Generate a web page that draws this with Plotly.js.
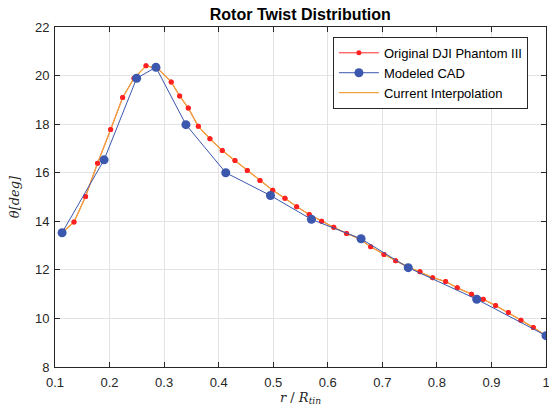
<!DOCTYPE html>
<html>
<head>
<meta charset="utf-8">
<script src="https://cdn.plot.ly/plotly-3.0.1.min.js"></script>
<style>html,body{margin:0;padding:0;background:#fff;}#chart{width:549px;height:410px;}</style>
</head>
<body>
<div id="chart"></div>
<script>
// Original DJI Phantom III (red dots)
const origR = [0.113,0.1348,0.156,0.178,0.202,0.224,0.2448,0.2668,0.288,0.313,0.3285,0.3443,0.3627,0.384,0.4066,0.4299,0.4525,0.4757,0.499,0.5215,0.543,0.566,0.5887,0.611,0.6345,0.6577,0.6786,0.703,0.7244,0.747,0.769,0.7923,0.816,0.8373,0.8635,0.885,0.9076,0.931,0.954,0.9767,1.0];
const origTheta = [13.53,13.97,15.02,16.39,17.78,19.10,19.89,20.40,20.30,19.74,19.16,18.66,17.91,17.40,16.91,16.50,16.09,15.68,15.28,14.95,14.60,14.28,14.00,13.75,13.50,13.28,12.95,12.63,12.38,12.12,11.92,11.68,11.52,11.26,11.00,10.79,10.53,10.24,9.93,9.63,9.29];
// Modeled CAD (blue dots)
const cadR = [0.113,0.190,0.2497,0.285,0.340,0.413,0.495,0.570,0.661,0.7475,0.873,1.0];
const cadTheta = [13.53,16.53,19.89,20.34,17.98,16.0,15.06,14.08,13.28,12.09,10.79,9.29];
// Current Interpolation (orange line, through the original points)
const interpR = origR;
const interpTheta = origTheta;

const traces = [
  {x: origR, y: origTheta, name: 'Original DJI Phantom III', mode: 'lines+markers',
   line: {color: '#ff2a2a', width: 1}, marker: {color: '#ff2020', size: 5}, legendrank: 1},
  {x: interpR, y: interpTheta, name: 'Current Interpolation', mode: 'lines',
   line: {color: '#f0a33c', width: 1.3}, legendrank: 3},
  {x: origR, y: origTheta, name: 'Original markers', mode: 'markers', showlegend: false,
   marker: {color: '#ff2020', size: 5}, hoverinfo: 'skip'},
  {x: cadR, y: cadTheta, name: 'Modeled CAD', mode: 'lines+markers',
   line: {color: '#3b57ae', width: 1}, marker: {color: '#3b57ae', size: 9}, legendrank: 2}
];

const axisFont = {family: 'Liberation Sans, Arial, sans-serif', size: 13, color: '#262626'};
const layout = {
  width: 549, height: 410,
  margin: {l: 55, r: 3, t: 27, b: 43},
  paper_bgcolor: '#ffffff', plot_bgcolor: '#ffffff',
  title: {text: '<b>Rotor Twist Distribution</b>', x: 0.547, xanchor: 'center', y: 0.964, yanchor: 'middle',
          font: {family: 'Liberation Sans, Arial, sans-serif', size: 16, color: '#000'}},
  xaxis: {range: [0.1, 1], dtick: 0.1, tick0: 0.1, showgrid: true, gridcolor: '#e3e3e3',
          showline: true, linecolor: '#262626', linewidth: 1, mirror: 'ticks', ticks: 'inside', ticklen: 5,
          tickcolor: '#262626', tickfont: axisFont, zeroline: false, ticklabelstandoff: 3,
          ticklabeloverflow: 'allow',
          title: {text: '<i>r</i> / <i>R<sub>tin</sub></i>', standoff: 0,
                  font: {family: 'DejaVu Serif, Liberation Serif, serif', size: 13, color: '#262626'}}},
  yaxis: {range: [8, 22], dtick: 2, showgrid: true, gridcolor: '#e3e3e3',
          showline: true, linecolor: '#262626', linewidth: 1, mirror: 'ticks', ticks: 'inside', ticklen: 5,
          tickcolor: '#262626', tickfont: axisFont, zeroline: false, ticklabelstandoff: 2,
          title: {text: '<i>θ[deg]</i>', standoff: 12,
                  font: {family: 'DejaVu Serif, Liberation Serif, serif', size: 13, color: '#262626'}}},
  legend: {x: 0.566, y: 0.971, xanchor: 'left', yanchor: 'top', bgcolor: '#ffffff',
           bordercolor: '#262626', borderwidth: 1, tracegroupgap: 0, itemwidth: 40,
           font: {family: 'Liberation Sans, Arial, sans-serif', size: 13, color: '#000'}},
  showlegend: true
};
Plotly.newPlot('chart', traces, layout, {displayModeBar: false, staticPlot: true});
</script>
</body>
</html>
